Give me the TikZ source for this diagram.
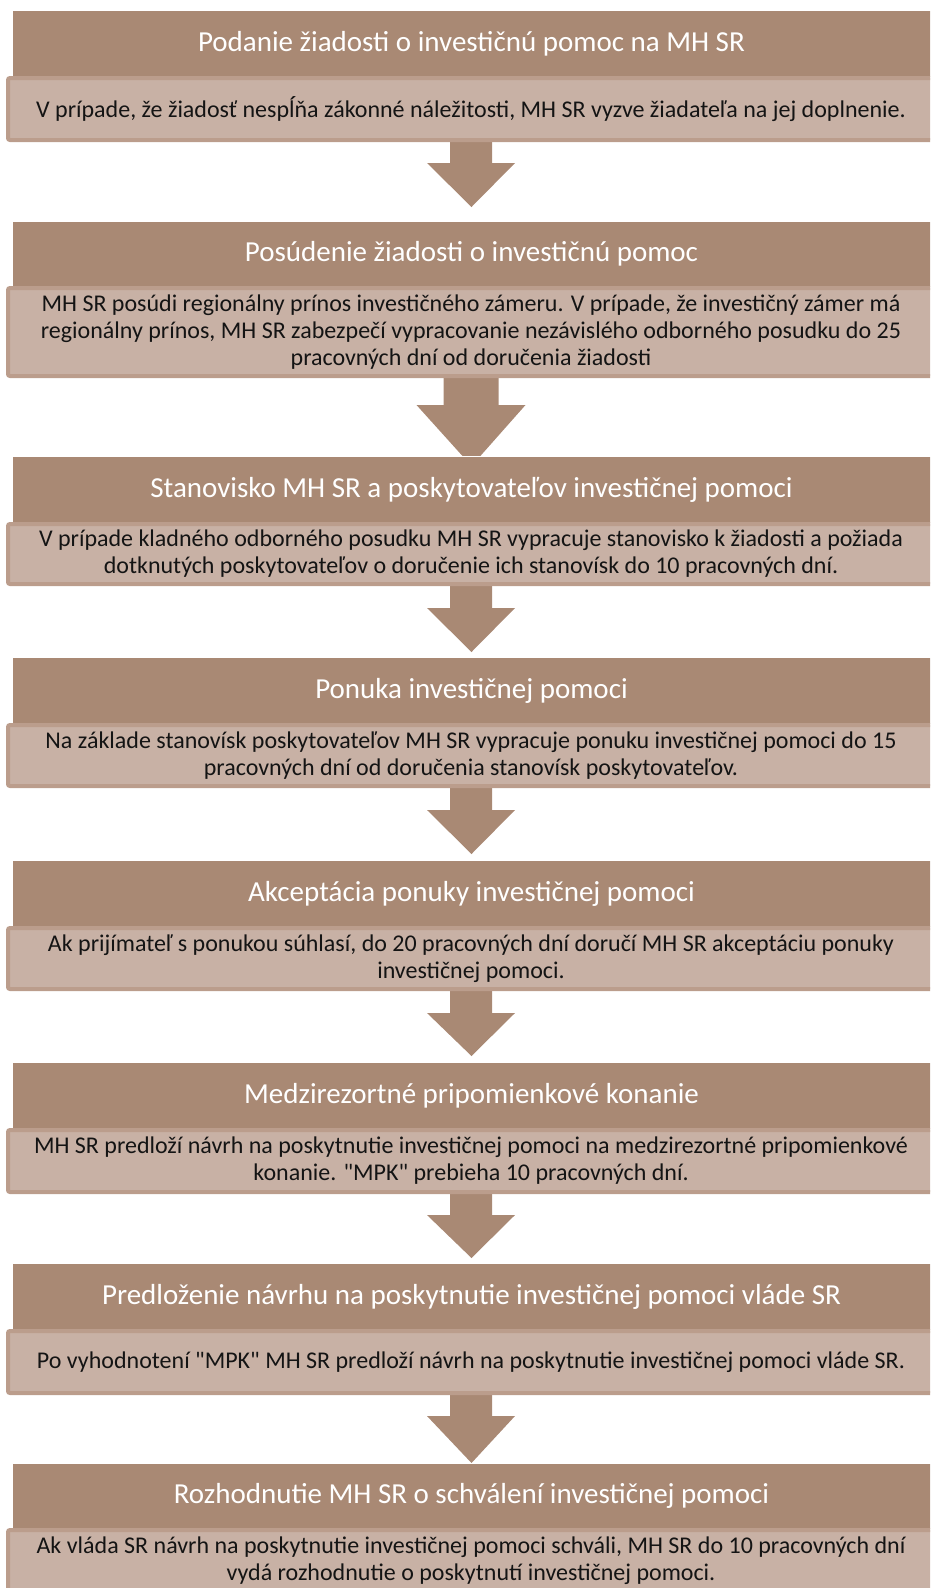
\documentclass[tikz,border=0pt]{standalone}
\usepackage{fontspec}
\setmainfont{Carlito}[Ligatures=TeXOff]
\usetikzlibrary{calc}
\pgfdeclarelayer{bg}
\pgfsetlayers{bg,main}
\definecolor{hdrcol}{RGB}{169,137,116}
\definecolor{detfill}{RGB}{200,177,165}
\definecolor{detborder}{RGB}{187,157,140}
\definecolor{txtcol}{RGB}{20,20,20}
\newcommand{\flowarrow}[6]{%
\begin{pgfonlayer}{bg}
\fill[arr] ($(#1.south)+(-#5,6)$) -- ($(#1.south)+(#5,6)$) -- ($(#1.south)+(#5,-#3)$) -- ($(#1.south)+(#6,-#3)$) -- ($(#2.north)+(0,#4)$) -- ($(#1.south)+(-#6,-#3)$) -- ($(#1.south)+(-#5,-#3)$) -- cycle;
\end{pgfonlayer}}
\begin{document}
\begin{tikzpicture}[x=1pt,y=1pt,
 hdr/.style={rectangle, fill=hdrcol, draw=white, line width=1pt, anchor=north west, minimum width=918pt, minimum height=66pt, inner sep=0pt, text=white, font=\fontsize{29}{35}\selectfont},
 det/.style={rectangle, fill=detfill, draw=detborder, line width=4pt, rounded corners=2pt, anchor=north west, minimum width=926pt, inner sep=0pt, text=txtcol, align=center, font=\fontsize{24}{27}\selectfont},
 arr/.style={fill=hdrcol}]
\useasboundingbox (0,0) rectangle (930,-1588);
\clip (0,0) rectangle (930,-1588);

\node[hdr] (h1) at (12,-10) {Podanie žiadosti o investičnú pomoc na MH SR};
\node[det, minimum height=62pt] (d1) at (6,-76) {V prípade, že žiadosť nespĺňa zákonné náležitosti, MH SR vyzve žiadateľa na jej doplnenie.};

\node[hdr, minimum height=65pt] (h2) at (12,-221) {Posúdenie žiadosti o investičnú pomoc};
\node[det, minimum height=88pt] (d2) at (6,-286) {MH SR posúdi regionálny prínos investičného zámeru. V prípade, že investičný zámer má\\ regionálny prínos, MH SR zabezpečí vypracovanie nezávislého odborného posudku do 25\\ pracovných dní od doručenia žiadosti};

\node[hdr] (h3) at (12,-456) {Stanovisko MH SR a poskytovateľov investičnej pomoci};
\node[det, minimum height=60pt] (d3) at (6,-522) {V prípade kladného odborného posudku MH SR vypracuje stanovisko k žiadosti a požiada\\ dotknutých poskytovateľov o doručenie ich stanovísk do 10 pracovných dní.};

\node[hdr] (h4) at (12,-657) {Ponuka investičnej pomoci};
\node[det, minimum height=61pt] (d4) at (6,-723) {Na základe stanovísk poskytovateľov MH SR vypracuje ponuku investičnej pomoci do 15\\ pracovných dní od doručenia stanovísk poskytovateľov.};

\node[hdr] (h5) at (12,-860) {Akceptácia ponuky investičnej pomoci};
\node[det, minimum height=61pt] (d5) at (6,-926) {Ak prijímateľ s ponukou súhlasí, do 20 pracovných dní doručí MH SR akceptáciu ponuky\\ investičnej pomoci.};

\node[hdr] (h6) at (12,-1062) {Medzirezortné pripomienkové konanie};
\node[det, minimum height=62pt] (d6) at (6,-1128) {MH SR predloží návrh na poskytnutie investičnej pomoci na medzirezortné pripomienkové\\ konanie. "MPK" prebieha 10 pracovných dní.};

\node[hdr] (h7) at (12,-1263) {Predloženie návrhu na poskytnutie investičnej pomoci vláde SR};
\node[det, minimum height=62pt] (d7) at (6,-1329) {Po vyhodnotení "MPK" MH SR predloží návrh na poskytnutie investičnej pomoci vláde SR.};

\node[hdr, minimum height=65pt] (h8) at (12,-1463) {Rozhodnutie MH SR o schválení investičnej pomoci};
\node[det, minimum height=62pt] (d8) at (6,-1528) {Ak vláda SR návrh na poskytnutie investičnej pomoci schváli, MH SR do 10 pracovných dní\\ vydá rozhodnutie o poskytnutí investičnej pomoci.};

\flowarrow{d1}{h2}{21}{14}{21}{44}
\flowarrow{d2}{h3}{27}{-10}{27.5}{54.5}
\flowarrow{d3}{h4}{22}{5}{21}{44}
\flowarrow{d4}{h5}{22}{6}{21}{44}
\flowarrow{d5}{h6}{22}{6}{21}{44}
\flowarrow{d6}{h7}{21}{5}{21}{44}
\flowarrow{d7}{h8}{21}{0}{21}{44}
\end{tikzpicture}
\end{document}
